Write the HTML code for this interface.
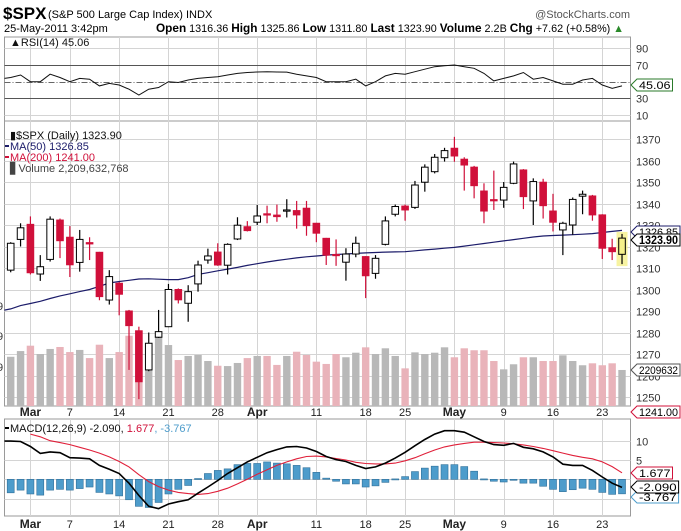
<!DOCTYPE html>
<html><head><meta charset="utf-8">
<style>
html,body{margin:0;padding:0;background:#fff;}
svg{display:block;font-family:"Liberation Sans",Arial,sans-serif;}
</style></head>
<body>
<svg id="chart" width="681" height="531" viewBox="0 0 681 531" xmlns="http://www.w3.org/2000/svg">
  <rect x="0" y="0" width="681" height="531" fill="#fff"/>
  <g>
    <text x="3" y="19" font-size="17" font-weight="bold" fill="#000">$SPX</text>
    <text x="48" y="18" font-size="11" fill="#000">(S&amp;P 500 Large Cap Index) INDX</text>
    <text x="630" y="18" font-size="11" fill="#555" text-anchor="end">@StockCharts.com</text>
    <text x="4" y="32" font-size="11" fill="#000">25-May-2011 3:42pm</text>
    <text x="156" y="32" font-size="11" fill="#000" textLength="468" lengthAdjust="spacingAndGlyphs"><tspan font-weight="bold" font-size="12">Open</tspan> 1316.36 <tspan font-weight="bold" font-size="12">High</tspan> 1325.86 <tspan font-weight="bold" font-size="12">Low</tspan> 1311.80 <tspan font-weight="bold" font-size="12">Last</tspan> 1323.90 <tspan font-weight="bold" font-size="12">Volume</tspan> 2.2B <tspan font-weight="bold" font-size="12">Chg</tspan> +7.62 (+0.58%) <tspan fill="#2a8a2a">▲</tspan></text>
  </g>
  <g id="grid"></g>
  <g id="marks"></g>
  <g id="labels"></g>
</svg>
<script>
// ---- data ----
const dates = ["Feb25","Feb28","Mar1","Mar2","Mar3","Mar4","Mar7","Mar8","Mar9","Mar10","Mar11","Mar14","Mar15","Mar16","Mar17","Mar18","Mar21","Mar22","Mar23","Mar24","Mar25","Mar28","Mar29","Mar30","Mar31","Apr1","Apr4","Apr5","Apr6","Apr7","Apr8","Apr11","Apr12","Apr13","Apr14","Apr15","Apr18","Apr19","Apr20","Apr21","Apr25","Apr26","Apr27","Apr28","Apr29","May2","May3","May4","May5","May6","May9","May10","May11","May12","May13","May16","May17","May18","May19","May20","May23","May24","May25"];
const opens = [1309,1323.3,1330.3,1307.2,1314,1332.3,1324.3,1312.6,1321.8,1317.3,1295.1,1302.9,1290,1280.8,1262.6,1277.8,1282.7,1300,1293.6,1302.6,1313.7,1317.4,1311.3,1323.5,1329.2,1331.3,1335.2,1334.6,1336.5,1336.7,1337.8,1330.8,1323.8,1316.3,1312.7,1316.5,1315.3,1307.5,1321,1335,1338.8,1338.2,1349.9,1354.8,1361.3,1365.7,1360.6,1356.9,1345.8,1341.8,1341.6,1349.4,1355.6,1341.2,1349.9,1336.5,1327.7,1330,1343.4,1343.5,1334.7,1319.4,1316.36];
const highs = [1322,1330.8,1334,1316,1334,1333,1329.5,1327.7,1324.3,1317.5,1309,1303.5,1290.5,1282.7,1280,1290.5,1302.6,1300.5,1302,1313.4,1319,1321.5,1321.5,1333.6,1331.8,1339.3,1339,1339.5,1342,1341.2,1341.2,1331,1324,1323.3,1319.2,1324.6,1315.5,1316,1334,1339.5,1339.5,1350.5,1358.2,1363,1365.9,1371,1361.5,1357.5,1349.4,1355.3,1350,1359.5,1356,1351.7,1351.5,1344.5,1331.5,1342.8,1346,1344,1335,1323.6,1325.86];
const lows = [1308,1320,1307,1304,1313,1314.6,1305.8,1308.3,1313.7,1295,1293,1288,1262.6,1249,1262,1277.5,1282.5,1293.5,1285,1299,1312,1311,1307,1323,1327,1330,1330.8,1331.5,1333.5,1328.3,1325,1322,1311.4,1311,1304.1,1315,1296,1305,1320.5,1334,1332,1337.5,1345.5,1354,1359.5,1359.4,1346,1342.4,1330.8,1337,1338,1349,1337.4,1330,1333,1327,1316,1325.5,1335,1332,1314.2,1313.7,1311.8];
const closes = [1321.5,1328.7,1307.8,1310.6,1332.7,1322.7,1311.5,1323.3,1321.2,1296.7,1306,1297.8,1283.2,1257.1,1275,1280.4,1300,1295.2,1299,1311.4,1315.6,1311.4,1321,1329.9,1327.4,1334.2,1335,1333.9,1337,1334.7,1329.7,1326.2,1316,1316,1316.5,1321.5,1306.4,1314.5,1331.9,1338.6,1337,1348.6,1356.9,1361.5,1364.6,1362.1,1357.9,1348.3,1336.5,1341.4,1347.5,1358.4,1343.2,1350.2,1339,1331.3,1330.8,1341.9,1344.3,1334.7,1319.2,1317.6,1323.9];
const volumes = [3.02,3.37,3.70,3.19,3.50,3.62,3.31,3.44,2.94,3.76,2.94,3.31,4.31,4.62,3.50,4.25,3.74,2.82,3.07,3.13,2.76,2.47,2.45,2.64,2.94,3.07,3.07,2.52,3.07,3.33,3.13,2.72,2.58,3.19,2.99,3.27,3.60,3.19,3.54,3.07,2.31,3.29,3.19,3.27,3.60,2.99,3.54,3.42,3.42,2.76,2.25,2.56,2.99,2.99,2.76,2.76,3.11,2.76,2.50,2.62,2.50,2.62,2.21];
const ma50 = [1291,1292.5,1293.5,1294.5,1295.8,1297,1298,1299,1300,1301.5,1303,1303.7,1304.3,1304.9,1305,1304.8,1304.6,1304.6,1305.5,1307,1307.8,1308.7,1309.5,1310.3,1311.2,1312,1312.8,1313.5,1314.1,1314.7,1315.2,1315.6,1316,1316.3,1316.5,1316.8,1317,1317.2,1317.4,1317.5,1317.6,1318,1318.4,1318.8,1319.2,1319.6,1320.2,1320.8,1321.4,1322,1322.6,1323.2,1323.8,1324.4,1324.9,1325.1,1325.3,1325.5,1325.7,1326,1326.5,1327,1327.5];
const rsi = [55,58,50,50,59,55,50,54,53,45,48,46,41,34,41,43,50,49,52,54,55,56,58,60,61,61.6,61.8,61.6,61.5,59,57,55,50,50,50,53,45,50,57,60,59,62,65,68,69,70,68,66,60,51,54,57,61,53,55,51,47,47,52,54,46,42,45];
const macd = [9.9,9.8,8.5,6.7,7.1,6.9,5.6,5.5,5.3,3.6,2.6,1.5,-1.0,-4.2,-7.0,-7.6,-6.4,-5.8,-5.3,-3.6,-2.0,-0.3,1.5,3.0,4.5,5.7,6.9,7.7,8.4,8.5,8.1,7.2,5.9,5.1,4.6,3.6,2.8,3.2,4.2,5.5,7.0,8.7,10.3,11.7,12.6,12.6,12.2,11.0,9.8,9.0,8.8,9.3,8.3,7.9,7.1,5.8,3.9,3.6,3.6,2.3,0.6,-1.0,-2.09];
const signal = [null,null,11.7,11.0,10.0,9.5,9.0,8.3,7.6,6.8,5.8,4.6,3.2,1.2,-0.6,-1.9,-2.8,-3.4,-3.7,-3.9,-3.7,-3.1,-2.3,-1.2,0.0,1.3,2.5,3.6,4.5,5.3,5.9,6.0,5.8,5.4,5.0,4.4,4.1,4.0,4.0,4.2,4.8,5.6,6.6,7.6,8.4,8.9,9.3,9.6,9.6,9.5,9.4,9.2,8.9,8.5,8.0,7.4,6.8,6.2,5.7,5.3,4.5,3.3,1.68];
const histogram = [-3.5,-2.8,-3.8,-4.1,-2.8,-2.6,-2.8,-2.4,-2.0,-3.4,-3.8,-4.3,-5.3,-7.0,-7.3,-6.0,-3.8,-2.6,-1.6,0.2,1.5,2.3,2.7,3.8,4.1,4.1,4.5,4.2,4.0,3.6,3.0,1.8,0.3,-0.5,-1.2,-1.2,-2.0,-1.7,-0.8,0.1,0.7,2.0,2.9,3.4,3.8,3.8,3.3,2.1,0.1,-0.5,-0.7,-0.2,-1.0,-1.0,-1.8,-2.6,-3.2,-2.7,-2.3,-2.6,-3.4,-3.9,-3.767];
const priceTicks = [1250,1260,1270,1280,1290,1300,1310,1320,1330,1340,1350,1360,1370];
const rsiTicks = [90,70,50,30,10];
const macdTicks = [10,5,0,-5];
const dateTickIdx = [2,6,11,16,21,25,31,36,40,45,50,55,60];
const dateTickLabels = ["Mar","7","14","21","28","Apr","11","18","25","May","9","16","23"];

// ---- scales ----
const PL = 4.5, PR = 630.5;
function xOf(i){ return 10.7 + i*9.86; }
function yP(p){ return 139 + (1370 - p)*2.15; }
function yV(v){ return 406 - v*16.3; }
function yR(v){ return 81.7 - (v - 50)*0.835; }
function yM(v){ return 479.3 - v*3.86; }

const NS = "http://www.w3.org/2000/svg";
const grid = document.getElementById('grid');
const marks = document.getElementById('marks');
const labels = document.getElementById('labels');
function mk(tag, attrs, parent){
  const el = document.createElementNS(NS, tag);
  for (const k in attrs) el.setAttribute(k, attrs[k]);
  parent.appendChild(el);
  return el;
}

const panels = [[37,121],[121,406],[419,516]];
panels.forEach(function(p){
  const r = mk('rect', {x:PL, y:p[0], width:PR-PL, height:p[1]-p[0], fill:'none', stroke:'#9a9a9a', 'stroke-width':1}, grid);
  
  
});

dateTickIdx.forEach(function(idx){
  const x = Math.round(xOf(idx)) + 0.5;
  panels.forEach(function(p){
    const l = mk('line', {x1:x, x2:x, y1:p[0], y2:p[1], stroke:'#d4d4d4', 'stroke-width':1}, grid);
    
    
  });
});

priceTicks.forEach(function(t){
  const y = Math.round(yP(t)) + 0.5;
  const l = mk('line', {x1:PL, x2:PR, y1:y, y2:y, stroke:'#d4d4d4', 'stroke-width':1}, grid);
  
  
  const tx = mk('text', {x:636, y:y+4, 'font-size':11, fill:'#333'}, labels);
  tx.textContent = t;
  
  
});

rsiTicks.forEach(function(t){
  const y = Math.round(yR(t)) + 0.5;
  const attrs = {x1:PL, x2:PR, y1:y, y2:y, stroke:'#d4d4d4', 'stroke-width':1};
  if (t===70 || t===30){ attrs.stroke = '#555'; }
  if (t===50){ attrs.stroke = '#666'; attrs['stroke-dasharray'] = '6,2,1,2'; }
  const l = mk('line', attrs, grid);
  
  
  if (t !== 50){
    const tx = mk('text', {x:636, y:y+4, 'font-size':11, fill:'#333'}, labels);
    tx.textContent = t;
    
    
  }
});

macdTicks.forEach(function(t){
  const y = Math.round(yM(t)) + 0.5;
  const l = mk('line', {x1:PL, x2:PR, y1:y, y2:y, stroke:'#d4d4d4', 'stroke-width':1}, grid);
  
  
  if (t !== 0){
    const tx = mk('text', {x:636, y:y+4, 'font-size':11, fill:'#333'}, labels);
    tx.textContent = t;
    
    
  }
});

[416, 528].forEach(function(by){
  dateTickIdx.forEach(function(idx, k){
    const lab = dateTickLabels[k];
    const bold = isNaN(+lab);
    const tx = mk('text', {x:xOf(idx), y:by, 'font-size':bold?12:11, 'font-weight':bold?'bold':'normal', fill:'#222', 'text-anchor':'middle'}, labels);
    tx.textContent = lab;
    
    
  });
});

volumes.forEach(function(v, i){
  const down = closes[i] < opens[i];
  const y = yV(v);
  const b = mk('rect', {x:xOf(i)-3.7, y:y, width:7.4, height:406-y, fill: down ? '#e9b3ba' : '#b8b8b8'}, marks);
  
  
});

let d = '';
ma50.forEach(function(v, i){ d += (i?'L':'M') + xOf(i).toFixed(1) + ',' + yP(v).toFixed(1); });
d = 'M' + PL + ',' + yP(ma50[0]-0.6).toFixed(1) + d.replace(/^M/, 'L');
const maLine = mk('path', {d:d, fill:'none', stroke:'#1c1c6a', 'stroke-width':1.2}, marks);



opens.forEach(function(o, i){
  const c = closes[i], h = highs[i], l = lows[i];
  const x = xOf(i);
  const last = i === opens.length - 1;
  const down = c < o;
  const col = down ? '#d0103a' : '#000';
  const g = mk('g', {}, marks);
  
  
  if (last){
    mk('rect', {x:x-5.5, y:yP(h)-2, width:11, height:yP(l)-yP(h)+4, fill:'#f5f08a', opacity:0.8}, g);
  }
  mk('line', {x1:x, x2:x, y1:yP(h), y2:yP(l), stroke:col, 'stroke-width':1.2}, g);
  const top = yP(Math.max(o,c)), bot = yP(Math.min(o,c));
  const bh = Math.max(bot - top, 1.2);
  mk('rect', {x:x-3.3, y:top, width:6.6, height:bh, fill: down ? '#d0103a' : (last ? '#f5f08a' : '#fff'), stroke:col, 'stroke-width':1}, g);
});

d = '';
rsi.forEach(function(v, i){ d += (i?'L':'M') + xOf(i).toFixed(1) + ',' + yR(v).toFixed(1); });
d = 'M' + PL + ',' + yR(rsi[0]-1).toFixed(1) + d.replace(/^M/, 'L');
const rsiLine = mk('path', {d:d, fill:'none', stroke:'#111', 'stroke-width':1}, marks);



histogram.forEach(function(v, i){
  const y0 = yM(0), y1 = yM(v);
  const b = mk('rect', {x:xOf(i)-3.5, y:Math.min(y0,y1), width:7, height:Math.max(Math.abs(y1-y0),1), fill:'#4d9ccb', stroke:'#2f6f99', 'stroke-width':0.6}, marks);
  
  
});
d = '';
let started = false;
signal.forEach(function(v, i){ if (v === null) return; d += (started?'L':'M') + xOf(i).toFixed(1) + ',' + yM(v).toFixed(1); started = true; });
const sigLine = mk('path', {d:d, fill:'none', stroke:'#e0203a', 'stroke-width':1.1}, marks);


d = '';
macd.forEach(function(v, i){ d += (i?'L':'M') + xOf(i).toFixed(1) + ',' + yM(v).toFixed(1); });
d = 'M' + PL + ',' + yM(macd[0]).toFixed(1) + d.replace(/^M/, 'L');
const macdLine = mk('path', {d:d, fill:'none', stroke:'#000', 'stroke-width':1.6}, marks);



function tag(y, txt, color, bold, name){
  const g = mk('g', {}, labels);
  
  
  const w = Math.min(txt.length * (bold ? 6.3 : 6.1) + 5, 43);
  mk('path', {d:'M631,'+y+' L637,'+(y-6)+' L'+(637+w)+','+(y-6)+' L'+(637+w)+','+(y+6)+' L637,'+(y+6)+' Z', fill:'#fff', stroke:color, 'stroke-width':1}, g);
  const t = mk('text', {x:639, y:y+4, 'font-size':bold?12:11, 'font-weight':bold?'bold':'normal', fill:'#000', textLength:w-4, lengthAdjust:'spacingAndGlyphs'}, g);
  t.textContent = txt;
}
tag(85, '45.06', '#2a7a2a', false, 'rsi-value-tag');
tag(Math.round(yP(1326.85)), '1326.85', '#1c1c6a', false, 'ma50-value-tag');
tag(Math.round(yP(1323.9))+2, '1323.90', '#000', true, 'last-price-tag');
tag(Math.round(yV(2.21)), '2209632', '#555', false, 'volume-value-tag');
tag(412, '1241.00', '#d0103a', false, 'ma200-value-tag');
tag(Math.round(yM(-3.767))+3, '-3.767', '#4d9ccb', false, 'histogram-value-tag');
tag(Math.round(yM(1.677)), '1.677', '#d0103a', false, 'signal-value-tag');
tag(Math.round(yM(-2.09)), '-2.090', '#000', false, 'macd-value-tag');

[310, 340, 371].forEach(function(y){
  const t = mk('text', {x:-3, y:y, 'font-size':11, fill:'#333'}, labels);
  t.textContent = '9';
  
  
});

function legend(y, parts, name, icon){
  const t = mk('text', {x:10, y:y, 'font-size':11}, labels);
  
  
  parts.forEach(function(p){
    const s = mk('tspan', {fill:p[1]}, t);
    s.textContent = p[0];
  });
  if (icon) mk('rect', {x:5, y:y-5, width:4, height:2, fill:icon}, labels);
}
legend(46, [['\u25B2RSI(14) 45.06','#111']], 'rsi-legend');
legend(139, [['\u25AE$SPX (Daily) 1323.90','#111']], 'price-legend');
legend(150, [['MA(50) 1326.85','#1c1c6a']], 'ma50-legend', '#1c1c6a');
legend(161, [['MA(200) 1241.00','#d0103a']], 'ma200-legend', '#d0103a');
legend(172, [['\u258BVolume 2,209,632,768','#444']], 'volume-legend');
legend(432, [['MACD(12,26,9) -2.090, ','#111'],['1.677','#d0103a'],[', -3.767','#4d9ccb']], 'macd-legend', '#000');
</script>
</body></html>
